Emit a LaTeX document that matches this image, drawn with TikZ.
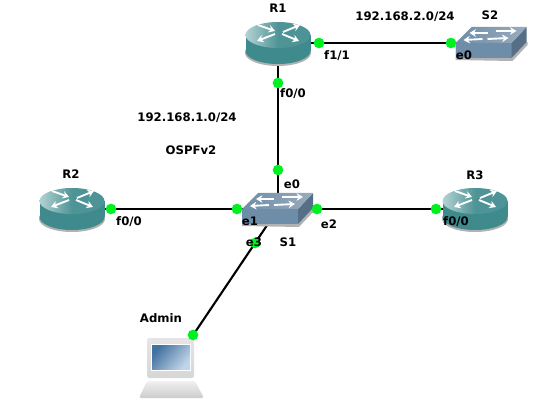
\documentclass[tikz,border=0pt]{standalone}
\usepackage{fontspec}
\setmainfont{DejaVu Sans}
\usetikzlibrary{arrows.meta}
\definecolor{routerSide}{HTML}{3F8A8C}
\definecolor{routerTop}{HTML}{4E9496}
\definecolor{routerLight}{HTML}{B4D2D4}
\definecolor{switchTop}{HTML}{7F97AE}
\definecolor{switchFront}{HTML}{6E8DA8}
\definecolor{switchSide}{HTML}{566F86}
\definecolor{portGreen}{HTML}{00F020}
\definecolor{screenBlue}{HTML}{4F86BC}

\begin{document}
\begin{tikzpicture}[
    x=0.03cm,
    y=-0.03cm,
    every node/.style={font=\fontsize{10}{12}\selectfont\bfseries},
    device/.style={rectangle, inner sep=0pt, outer sep=0pt},
    routerBox/.style={device, minimum width=1.9cm, minimum height=1.2cm},
    switchBox/.style={device, minimum width=2.0cm, minimum height=0.9cm},
    pcBox/.style={device, minimum width=1.95cm, minimum height=1.8cm},
    port/.style={circle, fill=portGreen, inner sep=0pt, minimum size=0.32cm},
    link/.style={line width=1.8pt, black},
    glyph/.style={line width=1.6pt, white, -{Stealth[length=5.5pt,width=6.5pt]}},
    router/.pic={
        \fill[black!30] (0,10) ellipse (33 and 13);
        \fill[routerSide] (-32.5,-8) rectangle (32.5,8);
        \fill[routerSide] (0,8) ellipse (32.5 and 13);
        \shade[left color=routerLight, right color=routerTop, middle color=routerTop] (0,-8) ellipse (32.5 and 13);
        \draw[glyph] (-20,-18) -- (-3,-12);
        \draw[glyph] (5,-11) -- (22,-18);
        \draw[glyph] (-3,-9) -- (-21,-2);
        \draw[glyph] (4,-9) -- (21,-2);
    },
    switchPic/.pic={
        \fill[black!30] (-36,2) -- (36,-1) -- (36,2) -- (21,18) -- (-36,17) -- cycle;
        \fill[switchFront] (-36,0) rectangle (20,15);
        \fill[switchSide] (20,0) -- (35,-16) -- (35,-1) -- (20,15) -- cycle;
        \shade[left color=switchFront, right color=switchTop!80!white] (-20,-16) -- (35,-16) -- (20,0) -- (-36,0) -- cycle;
        \draw[glyph] (-4,-10) -- (-22,-10);
        \draw[glyph] (4,-12) -- (25,-12);
        \draw[glyph] (-9,-4) -- (-28,-3);
        \draw[glyph] (-4,-4) -- (17,-5);
    },
    pcPic/.pic={
        \shade[top color=black!6, bottom color=black!20, rounded corners=2pt] (-24,13) -- (24,13) -- (33,30) -- (-32,30) -- cycle;
        \shade[top color=black!10, bottom color=black!16, rounded corners=2pt] (-24,-30) rectangle (23,10);
        \fill[white] (-20,-24) rectangle (20,3);
        \shade[left color=screenBlue!85!black, right color=screenBlue!35!white, shading angle=50] (-19,-23) rectangle (19,1);
    }
]

% device anchors
\node[routerBox] (r1) at (278,43) {};
\node[routerBox] (r2) at (72,209) {};
\node[routerBox] (r3) at (475,209) {};
\node[switchBox] (s1) at (278,209) {};
\node[switchBox] (s2) at (491.5,43) {};
\node[pcBox] (admin) at (171,368) {};

\useasboundingbox (0,0) rectangle (538,403);

% links
\draw[link] (r1) -- (s1);
\draw[link] (r1) -- (s2);
\draw[link] (r2) -- (s1);
\draw[link] (s1) -- (r3);
\draw[link] (s1) -- (admin);

% devices
\pic at (r1) {router};
\pic at (r2) {router};
\pic at (r3) {router};
\pic at (s1) {switchPic};
\pic at (s2) {switchPic};
\pic at (admin) {pcPic};

% ports
\node[port] (p1) at (319,43) {};
\node[port] (p2) at (451,43) {};
\node[port] (p3) at (278,83) {};
\node[port] (p4) at (278,170) {};
\node[port] (p5) at (111,209) {};
\node[port] (p6) at (237,209) {};
\node[port] (p7) at (317,209) {};
\node[port] (p8) at (436,209) {};
\node[port] (p9) at (255,243) {};
\node[port] (p10) at (193,335) {};

% labels
\node (lr1) at (278,8) {R1};
\node (lr2) at (71,174) {R2};
\node (lr3) at (475,175) {R3};
\node (ls1) at (288,242) {S1};
\node (ls2) at (490,15) {S2};
\node (ladmin) at (161,318) {Admin};
\node (net2) at (405,17) {192.168.2.0/24};
\node (net1) at (187,118) {192.168.1.0/24};
\node (ospf) at (191,150) {OSPFv2};
\node (if1) at (337,56) {f1/1};
\node (if2) at (464,55) {e0};
\node (if3) at (293,94) {f0/0};
\node (if4) at (292,184) {e0};
\node (if5) at (129,222) {f0/0};
\node (if6) at (250,221) {e1};
\node (if7) at (329,224) {e2};
\node (if8) at (456,222) {f0/0};
\node (if9) at (254,242) {e3};

\end{tikzpicture}
\end{document}
